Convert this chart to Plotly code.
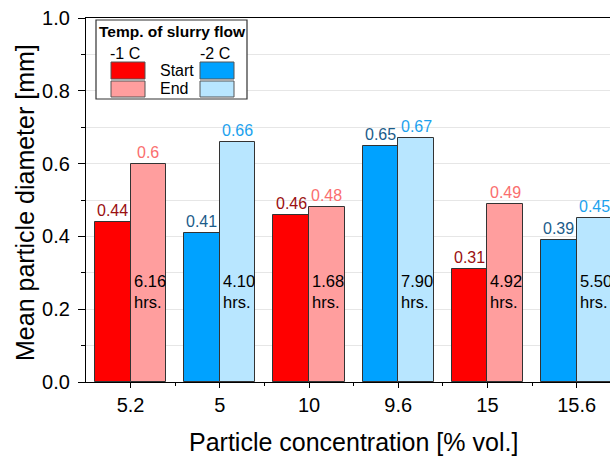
import plotly.graph_objects as go

# ---- data ----
concentration = ["5.2", "5", "10", "9.6", "15", "15.6"]
temperature = ["-1 C", "-2 C", "-1 C", "-2 C", "-1 C", "-2 C"]
start_diam = [0.44, 0.41, 0.46, 0.65, 0.31, 0.39]
end_diam = [0.60, 0.66, 0.48, 0.67, 0.49, 0.45]
start_labels = ["0.44", "0.41", "0.46", "0.65", "0.31", "0.39"]
end_labels = ["0.6", "0.66", "0.48", "0.67", "0.49", "0.45"]
duration_hrs = ["6.16", "4.10", "1.68", "7.90", "4.92", "5.50"]
y_ticks = [0.0, 0.2, 0.4, 0.6, 0.8, 1.0]
y_ticklabels = ["0.0", "0.2", "0.4", "0.6", "0.8", "1.0"]
temps_legend = ["-1 C", "-2 C"]
stages = ["Start", "End"]

# ---- styles ----
FONT = "Liberation Sans, Arial, sans-serif"
bar_color = {("-1 C", "Start"): "#FF0000", ("-1 C", "End"): "#FF9E9E",
             ("-2 C", "Start"): "#00A2FF", ("-2 C", "End"): "#B8E6FF"}
label_color = {("-1 C", "Start"): "#9A1010", ("-1 C", "End"): "#FA6E6E",
               ("-2 C", "Start"): "#1B5C8A", ("-2 C", "End"): "#1CA2EE"}
OUTLINE = "#333333"

W, H = 610, 457
L, R, T, B = 86, 0, 18, 75
PW, PH = W - L - R, H - T - B
def px(x):   # page pixel -> paper
    return (x - L) / PW
def py(y):
    return (H - B - y) / PH

idx = list(range(len(concentration)))
half = 0.2

fig = go.Figure()
for stage, vals, off in (("Start", start_diam, -half), ("End", end_diam, half)):
    fig.add_trace(go.Bar(
        x=[i + off for i in idx], y=vals, width=2 * half,
        marker=dict(color=[bar_color[(t, stage)] for t in temperature],
                    line=dict(color=OUTLINE, width=1)),
        showlegend=False, name=stage, hoverinfo="skip"))

ann = []
for i in idx:
    t = temperature[i]
    ann.append(dict(x=i - half, y=start_diam[i], xref="x", yref="y", text=start_labels[i],
                    showarrow=False, yanchor="bottom", yshift=1,
                    font=dict(family=FONT, size=16, color=label_color[(t, "Start")])))
    ann.append(dict(x=i + half, y=end_diam[i], xref="x", yref="y", text=end_labels[i],
                    showarrow=False, yanchor="bottom", yshift=1,
                    font=dict(family=FONT, size=16, color=label_color[(t, "End")])))
    ann.append(dict(x=i, y=0.25, xref="x", yref="y", text=duration_hrs[i] + "<br>hrs.",
                    showarrow=False, xanchor="left", yanchor="middle", align="left", xshift=1,
                    font=dict(family=FONT, size=16.5, color="black")))

# axis titles
ann.append(dict(x=px(353), y=py(442), xref="paper", yref="paper",
                text="Particle concentration [% vol.]", showarrow=False,
                xanchor="center", yanchor="middle", font=dict(family=FONT, size=25, color="black")))
ann.append(dict(x=px(25), y=py(203), xref="paper", yref="paper",
                text="Mean particle diameter [mm]", showarrow=False, textangle=-90,
                xanchor="center", yanchor="middle", font=dict(family=FONT, size=25, color="black")))

# manual legend
shapes = [dict(type="rect", xref="paper", yref="paper", x0=px(96), x1=px(247), y0=py(99), y1=py(20),
               fillcolor="white", line=dict(color="#333333", width=1.2), layer="above")]
sw = {("-1 C", "Start"): (111, 145, 62, 79), ("-1 C", "End"): (111, 145, 81, 97),
      ("-2 C", "Start"): (200, 234, 62, 79), ("-2 C", "End"): (200, 234, 81, 97)}
for key, (x0, x1, y0, y1) in sw.items():
    shapes.append(dict(type="rect", xref="paper", yref="paper", x0=px(x0), x1=px(x1),
                       y0=py(y1), y1=py(y0), fillcolor=bar_color[key],
                       line=dict(color="#555555", width=1), layer="above"))
ann.append(dict(x=px(172), y=py(32), xref="paper", yref="paper", text="<b>Temp. of slurry flow</b>",
                showarrow=False, xanchor="center", yanchor="middle",
                font=dict(family=FONT, size=15.5, color="black")))
for tl, cx in zip(temps_legend, (125, 215)):
    ann.append(dict(x=px(cx), y=py(53), xref="paper", yref="paper", text=tl, showarrow=False,
                    xanchor="center", yanchor="middle", font=dict(family=FONT, size=16, color="black")))
for st, cy in zip(stages, (70, 89)):
    ann.append(dict(x=px(158), y=py(cy), xref="paper", yref="paper", text=st, showarrow=False,
                    xanchor="left", yanchor="middle", font=dict(family=FONT, size=16, color="black")))

fig.update_layout(
    width=W, height=H, margin=dict(l=L, r=R, t=T, b=B),
    paper_bgcolor="white", plot_bgcolor="white",
    font=dict(family=FONT, color="black"),
    bargap=0, annotations=ann, shapes=shapes,
    xaxis=dict(range=[-0.5, -0.5 + PW / 89.2], tickmode="array", tickvals=idx, ticktext=concentration,
               ticks="outside", ticklen=5, tickcolor="black", tickwidth=1.2,
               showline=True, linecolor="black", linewidth=1.2, mirror=True,
               showgrid=False, zeroline=False, tickfont=dict(size=20, family=FONT),
               minor=dict(tickmode="array", tickvals=[i + 0.5 for i in idx[:-1]],
                          ticks="outside", ticklen=3, tickcolor="black", tickwidth=1.2)),
    yaxis=dict(range=[0, 1.0005], tickmode="array", tickvals=y_ticks, ticktext=y_ticklabels,
               ticks="outside", ticklen=7, tickcolor="black", tickwidth=1.2,
               showline=True, linecolor="black", linewidth=1.2,
               showgrid=True, gridcolor="#E6E6E6", gridwidth=1, zeroline=False,
               tickfont=dict(size=20, family=FONT), ticklabelstandoff=4,
               minor=dict(tickmode="linear", tick0=0, dtick=0.1, ticks="outside", ticklen=4,
                          tickcolor="black", tickwidth=1.2,
                          showgrid=True, gridcolor="#E6E6E6", gridwidth=1)),
)

fig.write_html("out.html", config={"displayModeBar": False},
               post_script="document.body.style.margin='0';"
                           "document.body.style.overflow='hidden';"
                           "document.documentElement.style.overflow='hidden';")
